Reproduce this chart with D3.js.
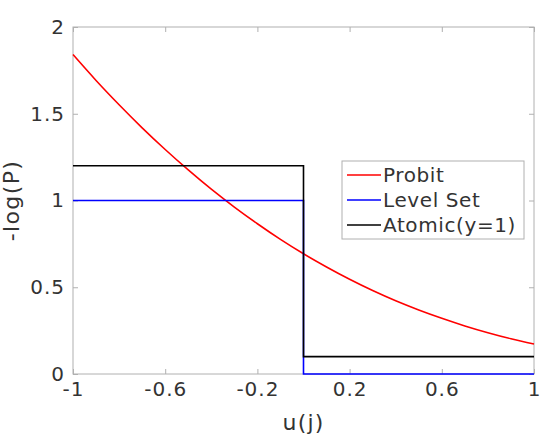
<!DOCTYPE html>
<html lang="en">
<head>
<meta charset="UTF-8">
<title>-log(P)</title>
<script src="https://cdn.jsdelivr.net/npm/d3@7"></script>
<style>
  body { margin: 0; background: #fff; }
  text { font-family: "DejaVu Sans", sans-serif; fill: #333; }
</style>
</head>
<body>
<div id="container"></div>
<script>
// values
const uVals = [-1, -0.9, -0.8, -0.7, -0.6, -0.5, -0.4, -0.3, -0.2, -0.1, 0,
               0.1, 0.2, 0.3, 0.4, 0.5, 0.6, 0.7, 0.8, 0.9, 1];
const probit = [1.841, 1.692, 1.552, 1.419, 1.294, 1.176, 1.065, 0.962, 0.866, 0.776, 0.693,
                0.617, 0.546, 0.481, 0.422, 0.369, 0.321, 0.277, 0.238, 0.203, 0.173];
const levelSetU = [-1, 0, 0, 1];
const levelSet = [1, 1, 0, 0];
const atomicU = [-1, 0, 0, 1];
const atomic = [1.2, 1.2, 0.1, 0.1];
const xTicks = [-1, -0.6, -0.2, 0.2, 0.6, 1];
const yTicks = [0, 0.5, 1, 1.5, 2];
const seriesNames = ["Probit", "Level Set", "Atomic(y=1)"];
const seriesColors = ["#ff0000", "#0000ff", "#000000"];

const W = 544, H = 437;
const m = { left: 73, right: 10, top: 27, bottom: 63 };

const svg = d3.select("#container").append("svg")
  .attr("width", W).attr("height", H);

const x = d3.scaleLinear().domain([-1, 1]).range([m.left, W - m.right]);
const y = d3.scaleLinear().domain([0, 2]).range([H - m.bottom, m.top]);

const axisColor = "#b0b0b0";

// box
svg.append("rect")
  .attr("x", x(-1)).attr("y", y(2))
  .attr("width", x(1) - x(-1)).attr("height", y(0) - y(2))
  .attr("fill", "none").attr("stroke", axisColor).attr("stroke-width", 1);

function styleAxis(g) {
  g.select(".domain").remove();
  g.selectAll(".tick line").attr("stroke", axisColor);
  g.selectAll(".tick text").attr("fill", "#333").style("font-size", "20px")
    .style("letter-spacing", "1px")
    .style("font-family", "DejaVu Sans, sans-serif");
}

const fmt = d => String(d);

svg.append("g").attr("transform", `translate(0,${y(0)})`)
  .call(d3.axisBottom(x).tickValues(xTicks).tickSize(-5).tickPadding(8).tickFormat(fmt))
  .call(styleAxis);
svg.append("g").attr("transform", `translate(0,${y(2)})`)
  .call(d3.axisTop(x).tickValues(xTicks).tickSize(-5).tickFormat(""))
  .call(styleAxis);
svg.append("g").attr("transform", `translate(${x(-1)},0)`)
  .call(d3.axisLeft(y).tickValues(yTicks).tickSize(-5).tickPadding(8).tickFormat(fmt))
  .call(styleAxis);
svg.append("g").attr("transform", `translate(${x(1)},0)`)
  .call(d3.axisRight(y).tickValues(yTicks).tickSize(-5).tickFormat(""))
  .call(styleAxis);

const line = d3.line().x(d => x(d[0])).y(d => y(d[1]));
const smooth = d3.line().x(d => x(d[0])).y(d => y(d[1])).curve(d3.curveMonotoneX);

const data = [
  d3.zip(uVals, probit),
  d3.zip(levelSetU, levelSet),
  d3.zip(atomicU, atomic)
];

data.forEach((pts, i) => {
  svg.append("path")
    .attr("d", i === 0 ? smooth(pts) : line(pts))
    .attr("fill", "none")
    .attr("stroke", seriesColors[i])
    .attr("stroke-width", 1.6);
});

// axis labels
svg.append("text")
  .attr("x", (x(-1) + x(1)) / 2).attr("y", 430)
  .attr("text-anchor", "middle").style("font-size", "22px")
  .style("letter-spacing", "1.2px")
  .text("u(j)");
svg.append("text")
  .attr("transform", `translate(19,${y(1)}) rotate(-90)`)
  .attr("text-anchor", "middle").style("font-size", "22px")
  .style("letter-spacing", "1.4px")
  .text("-log(P)");

// legend
const lg = svg.append("g").attr("transform", "translate(342,161)");
lg.append("rect").attr("width", 182).attr("height", 78)
  .attr("fill", "#fff").attr("stroke", axisColor);
seriesNames.forEach((name, i) => {
  const cy = 14 + i * 25;
  lg.append("line").attr("x1", 5).attr("x2", 39).attr("y1", cy).attr("y2", cy)
    .attr("stroke", seriesColors[i]).attr("stroke-width", 1.6);
  lg.append("text").attr("x", 41).attr("y", cy).attr("dy", "0.35em")
    .style("font-size", "20px").style("letter-spacing", "0.6px").text(name);
});
</script>
</body>
</html>
